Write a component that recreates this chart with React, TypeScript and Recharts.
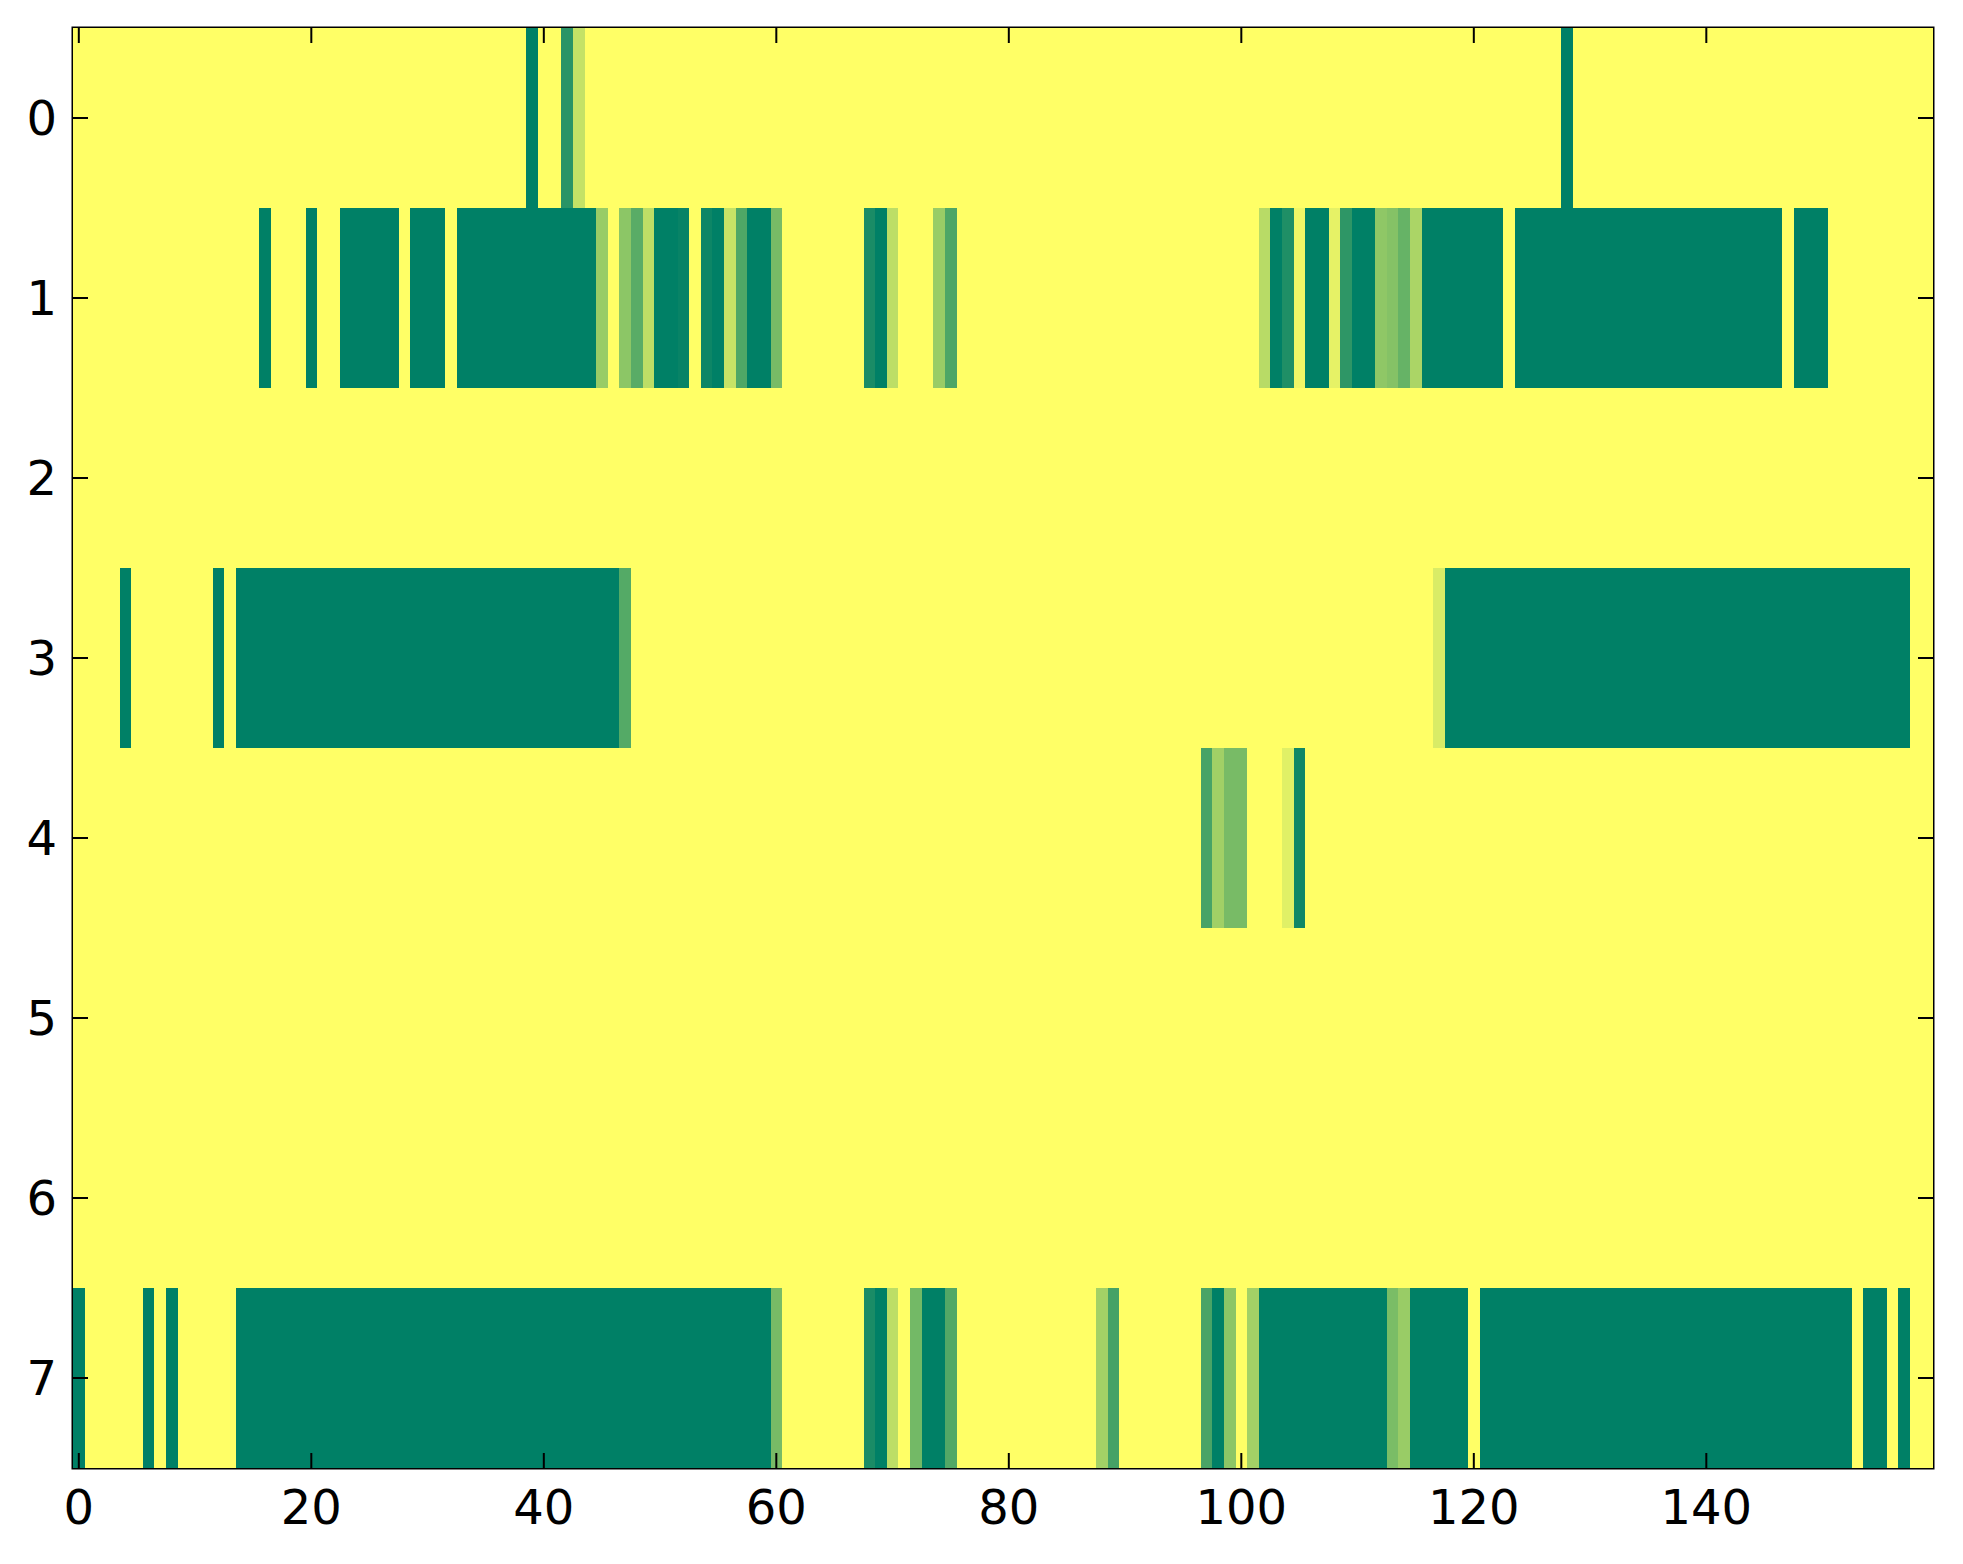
import React from "react";
import { ScatterChart, Scatter, XAxis, YAxis, ReferenceArea } from "recharts";

// grid size
const nCols = 160;
const rowIds = [0, 1, 2, 3, 4, 5, 6, 7];
const xTicks = [0, 20, 40, 60, 80, 100, 120, 140];

// each row: runs of [firstCol, lastCol, value]; every other cell is 1 (yellow)
const row0 = [
  [39, 39, 0],
  [42, 42, 0.16],
  [43, 43, 0.77],
  [128, 128, 0],
];
const row1 = [
  [16, 16, 0],
  [20, 20, 0],
  [23, 27, 0],
  [29, 31, 0],
  [33, 44, 0],
  [45, 45, 0.6],
  [47, 47, 0.55],
  [48, 48, 0.35],
  [49, 49, 0.74],
  [50, 51, 0],
  [52, 52, 0.03],
  [54, 54, 0.05],
  [55, 55, 0],
  [56, 56, 0.78],
  [57, 57, 0.31],
  [58, 59, 0],
  [60, 60, 0.47],
  [68, 68, 0.1],
  [69, 69, 0],
  [70, 70, 0.74],
  [74, 74, 0.6],
  [75, 75, 0.3],
  [102, 102, 0.72],
  [103, 103, 0],
  [104, 104, 0.12],
  [105, 105, 0.94],
  [106, 107, 0],
  [108, 108, 0.9],
  [109, 109, 0.18],
  [110, 111, 0],
  [112, 112, 0.56],
  [113, 113, 0.52],
  [114, 114, 0.4],
  [115, 115, 0.67],
  [116, 122, 0],
  [124, 146, 0],
  [148, 150, 0],
];
const row2: number[][] = [];
const row3 = [
  [4, 4, 0],
  [12, 12, 0],
  [14, 46, 0],
  [47, 47, 0.33],
  [117, 117, 0.85],
  [118, 157, 0],
];
const row4 = [
  [97, 97, 0.28],
  [98, 98, 0.63],
  [99, 100, 0.47],
  [104, 104, 0.88],
  [105, 105, 0.06],
];
const row5: number[][] = [];
const row6: number[][] = [];
const row7 = [
  [0, 0, 0],
  [6, 6, 0],
  [8, 8, 0],
  [14, 59, 0],
  [60, 60, 0.47],
  [68, 68, 0.1],
  [69, 69, 0],
  [70, 70, 0.74],
  [72, 72, 0.45],
  [73, 74, 0],
  [75, 75, 0.32],
  [88, 88, 0.64],
  [89, 89, 0.27],
  [97, 97, 0.29],
  [98, 98, 0],
  [99, 99, 0.55],
  [101, 101, 0.64],
  [102, 112, 0],
  [113, 113, 0.48],
  [114, 114, 0.6],
  [115, 119, 0],
  [121, 152, 0],
  [154, 155, 0],
  [157, 157, 0],
];
const rows = [row0, row1, row2, row3, row4, row5, row6, row7];

const W = 1947;
const H = 1548;
const PLOT_LEFT = 65;
const PLOT_TOP = 20;
const PLOT_W = 1860;
const PLOT_H = 1440;
const CELL_W = PLOT_W / nCols;
const CELL_H = PLOT_H / rowIds.length;
const FONT = "'DejaVu Sans', sans-serif";

// matplotlib "summer" colormap
const summer = (v: number) =>
  `rgb(${Math.round(255 * v)}, ${Math.round(255 * (0.5 + 0.5 * v))}, 102)`;

const cells: { x: number; y: number; v: number }[] = [];
rows.forEach((runs, r) => {
  for (let c = 0; c < nCols; c++) {
    const run = runs.find((d) => c >= d[0] && c <= d[1]);
    cells.push({ x: c, y: rowIds[r], v: run ? run[2] : 1 });
  }
});

const Cell = (props: any) => {
  const { cx, cy, payload } = props;
  return (
    <rect
      x={cx - CELL_W / 2}
      y={cy - CELL_H / 2}
      width={CELL_W + 0.6}
      height={CELL_H + 0.6}
      fill={summer(payload.v)}
      shapeRendering="crispEdges"
    />
  );
};

const XTick = (props: any) => {
  const { x, y, payload } = props;
  return (
    <g>
      <line x1={x} x2={x} y1={y} y2={y - 15} stroke="#000" strokeWidth={2} />
      <line x1={x} x2={x} y1={y - PLOT_H} y2={y - PLOT_H + 15} stroke="#000" strokeWidth={2} />
      <text x={x} y={y + 56} textAnchor="middle" fontSize={48} fontFamily={FONT} fill="#000">
        {payload.value}
      </text>
    </g>
  );
};

const YTick = (props: any) => {
  const { x, y, payload } = props;
  return (
    <g>
      <line x1={x} x2={x + 15} y1={y} y2={y} stroke="#000" strokeWidth={2} />
      <line x1={x + PLOT_W} x2={x + PLOT_W - 15} y1={y} y2={y} stroke="#000" strokeWidth={2} />
      <text x={x - 16} y={y + 17} textAnchor="end" fontSize={48} fontFamily={FONT} fill="#000">
        {payload.value}
      </text>
    </g>
  );
};

export default function App() {
  return (
    <ScatterChart
      width={W}
      height={H}
      margin={{ top: PLOT_TOP, right: W - PLOT_LEFT - PLOT_W, left: 0, bottom: 0 }}
    >
      <Scatter data={cells} dataKey="v" shape={<Cell />} isAnimationActive={false} />
      <XAxis
        dataKey="x"
        type="number"
        domain={[-0.5, nCols - 0.5]}
        allowDataOverflow
        ticks={xTicks}
        interval={0}
        tick={<XTick />}
        tickLine={false}
        axisLine={false}
        tickSize={0}
        tickMargin={0}
        height={H - PLOT_TOP - PLOT_H}
      />
      <YAxis
        dataKey="y"
        type="number"
        domain={[-0.5, rowIds.length - 0.5]}
        allowDataOverflow
        reversed
        ticks={rowIds}
        interval={0}
        tick={<YTick />}
        tickLine={false}
        axisLine={false}
        tickSize={0}
        tickMargin={0}
        width={PLOT_LEFT}
      />
      <ReferenceArea
        x1={-0.5}
        x2={nCols - 0.5}
        y1={-0.5}
        y2={rowIds.length - 0.5}
        fill="none"
        fillOpacity={0}
        stroke="#000"
        strokeWidth={3}
        ifOverflow="visible"
      />
    </ScatterChart>
  );
}
